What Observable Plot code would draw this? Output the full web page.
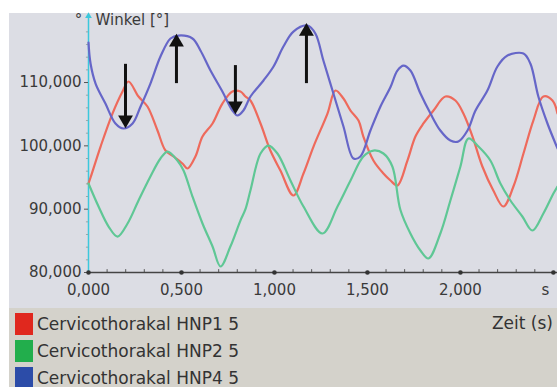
<!DOCTYPE html>
<html><head><meta charset="utf-8">
<script src="https://cdn.jsdelivr.net/npm/d3@7"></script>
<script src="https://cdn.jsdelivr.net/npm/@observablehq/plot@0.6"></script>
<style>
body{margin:0;background:#fff;font-family:"DejaVu Sans",sans-serif;}
#wrap{position:relative;width:557px;height:387px;overflow:hidden;}
#bg{position:absolute;left:9px;top:13px;width:548px;height:295px;background:#dcdde4;}
#chart{position:absolute;left:0;top:0;}
#legend{position:absolute;left:9px;top:308px;width:548px;height:79px;background:#d4d2cb;}
.row{position:absolute;left:6px;height:24px;display:flex;align-items:center;font-size:17px;color:#333;white-space:nowrap;}
.sw{width:18px;height:22px;margin-right:4px;flex:none;}
#zeit{position:absolute;right:4px;top:5px;font-size:17px;color:#333;}
</style></head>
<body>
<div id="wrap">
  <div id="bg"></div>
  <div id="chart"></div>
  <div id="legend"></div>
</div>
<script>
// ---- data ----
const seriesNames = ["Cervicothorakal HNP1 5", "Cervicothorakal HNP2 5", "Cervicothorakal HNP4 5"];
const lineColors = ["#ee6a5c", "#5fc795", "#6666c8"];
const legendColors = ["#e0281e", "#22ae4c", "#2c4ca8"];

const tRed = [0,0.011,0.065,0.129,0.183,0.215,0.269,0.317,0.371,0.414,0.457,0.505,0.532,0.575,0.613,0.667,0.720,0.774,0.817,0.844,0.871,0.925,0.978,1.032,1.102,1.156,1.210,1.285,1.328,1.371,1.409,1.452,1.478,1.532,1.586,1.624,1.661,1.715,1.758,1.801,1.855,1.919,1.973,2.016,2.065,2.118,2.177,2.231,2.285,2.339,2.392,2.446,2.495,2.522];
const vRed = [94.05,95.0,99.89,105.1,108.58,110.16,107.79,106.21,102.42,99.26,98.32,97.21,96.42,98.32,101.47,103.53,106.68,108.58,108.58,107.79,107.16,103.53,99.26,96.1,92.16,95.63,99.89,105.1,108.74,107.47,105.58,104.0,101.47,97.68,95.63,94.53,93.74,97.68,101.47,103.53,105.58,107.79,107.16,105.1,101.47,96.74,92.95,90.42,93.58,98.79,104.0,107.79,107.16,105.1];

const tGreen = [0,0.054,0.108,0.156,0.210,0.269,0.333,0.387,0.425,0.478,0.511,0.559,0.613,0.667,0.710,0.763,0.817,0.844,0.871,0.925,0.968,1.016,1.086,1.156,1.258,1.339,1.409,1.478,1.532,1.586,1.634,1.677,1.731,1.785,1.828,1.892,1.946,2.000,2.043,2.097,2.161,2.215,2.269,2.333,2.387,2.446,2.500,2.522];
const vGreen = [94.05,90.42,87.26,85.68,87.74,91.37,95.16,98.0,99.1,97.68,96.1,92.0,87.74,84.1,80.95,84.1,88.2,90.0,93.0,98.79,100.05,98.79,94.53,90.42,86.16,90.42,94.53,98.32,99.26,98.79,96.74,89.9,86.16,83.47,82.21,86.16,91.37,96.74,101.16,99.89,97.68,94.05,91.37,88.84,86.63,89.31,92.47,93.58];

const tBlue = [0,0.011,0.038,0.091,0.145,0.188,0.237,0.280,0.333,0.387,0.441,0.484,0.559,0.602,0.656,0.720,0.774,0.801,0.833,0.871,0.941,0.995,1.048,1.102,1.177,1.220,1.263,1.317,1.371,1.425,1.462,1.516,1.570,1.624,1.661,1.694,1.731,1.785,1.839,1.892,1.946,1.989,2.038,2.081,2.145,2.199,2.253,2.339,2.376,2.419,2.468,2.511,2.522];
const vBlue = [116.3,113.0,109.84,106.68,103.53,102.74,103.53,106.21,109.84,114.1,116.95,117.42,116.95,115.05,111.89,108.58,105.58,104.79,105.58,107.79,110.32,112.53,115.68,118.05,119.0,117.74,113.47,108.26,103.05,98.0,98.32,102.42,106.21,109.3,111.89,112.68,111.89,108.26,105.1,102.42,100.84,100.68,102.42,105.58,108.74,112.53,114.26,114.58,113.0,107.79,103.53,100.37,99.6];

// annotation arrows: time, base value, tip value
const arrowsDown = [{t:0.199, from:112.4, to:103.5}, {t:0.790, from:112.2, to:105.7}];
const arrowsUp = [{t:0.473, from:110.3, to:117.0}, {t:1.172, from:110.3, to:118.7}];

const yTicks = [80, 90, 100, 110];
const yMinorTicks = [82,84,86,88,92,94,96,98,102,104,106,108,112,114,116,118];
const xTicks = [0, 0.5, 1, 1.5, 2, 2.5];
const xTickLabels = ["0,000", "0,500", "1,000", "1,500", "2,000", "s"];
const xMinorTicks = [0.1,0.2,0.3,0.4,0.6,0.7,0.8,0.9,1.1,1.2,1.3,1.4,1.6,1.7,1.8,1.9,2.1,2.2,2.3,2.4];
const yLabel = "Winkel [°]";
const xLabel = "Zeit (s)";

// ---- build ----
const rows = [];
[[tRed, vRed], [tGreen, vGreen], [tBlue, vBlue]].forEach(([ts, vs], i) => {
  ts.forEach((t, j) => rows.push({series: seriesNames[i], t, v: vs[j]}));
});
const fmt = d => d.toFixed(3).replace(".", ",");
const xFmt = d => xTickLabels[xTicks.indexOf(d)];
const xNumTicks = xTicks.slice(0, -1);
const xUnitTick = xTicks.slice(-1);

const chart = Plot.plot({
  width: 557, height: 308,
  marginLeft: 88, marginRight: 0, marginTop: 13, marginBottom: 36,
  style: {background: "transparent", color: "#3a3a3a", fontFamily: "DejaVu Sans, sans-serif", fontSize: "15px", overflow: "visible"},
  x: {type: "linear", domain: [0, 2.522], axis: null, label: null},
  y: {type: "linear", domain: [80, 120.9], axis: null, label: null},
  color: {domain: seriesNames, range: lineColors},
  marks: [
    Plot.ruleX([0], {y1: 80, y2: 120.5, stroke: "#3cc8dc", strokeWidth: 1.5}),
    Plot.dot([0], {x: 0, y: 120.5, symbol: "triangle", r: 2.5, fill: "#3cc8dc", stroke: "none"}),
    Plot.ruleY(yMinorTicks, {y: d => d, x1: -0.011, x2: 0, stroke: "#8a9a9a", strokeWidth: 0.8}),
    Plot.axisY(yTicks, {tickFormat: fmt, tickSize: 4, tickPadding: 3, fontSize: 15, stroke: "#555", fill: "#3a3a3a", label: null}),
    Plot.ruleX(xMinorTicks, {x: d => d, y1: 80, y2: 80.45, stroke: "#555", strokeWidth: 1}),
    Plot.ruleY([80], {stroke: "#444", strokeWidth: 1.5}),
    Plot.dot(xTicks, {x: d => d, y: 80, r: 2.3, fill: "#333", stroke: "none"}),
    Plot.axisX(xNumTicks, {tickFormat: xFmt, tickSize: 0, tickPadding: 12, fontSize: 15, fill: "#3a3a3a", label: null}),
    Plot.text(xUnitTick, {x: d => d, y: 80, text: xFmt, dx: -8, dy: 12, lineAnchor: "top", fontSize: 15, fill: "#3a3a3a"}),
    Plot.line(rows, {x: "t", y: "v", z: "series", stroke: "series", strokeWidth: 2.2, curve: "catmull-rom"}),
    Plot.ruleX(arrowsDown, {x: "t", y1: "from", y2: "to", stroke: "#111", strokeWidth: 3, dy: -3}),
    Plot.dot(arrowsDown, {x: "t", y: "to", symbol: "triangle", rotate: 180, r: 5.5, fill: "#111", stroke: "none", dy: -4}),
    Plot.ruleX(arrowsUp, {x: "t", y1: "from", y2: "to", stroke: "#111", strokeWidth: 3, dy: 3}),
    Plot.dot(arrowsUp, {x: "t", y: "to", symbol: "triangle", r: 5.5, fill: "#111", stroke: "none", dy: 4}),
    Plot.text([yLabel], {frameAnchor: "top-left", dx: 7, dy: 1, lineAnchor: "top", textAnchor: "start", fontSize: 15, fill: "#3a3a3a"}),
    Plot.text(["°"], {frameAnchor: "top-left", dx: -10, dy: 1, lineAnchor: "top", textAnchor: "middle", fontSize: 15, fill: "#3a3a3a"})
  ]
});
document.getElementById("chart").appendChild(chart);

const legend = document.getElementById("legend");
seriesNames.forEach((name, i) => {
  const row = document.createElement("div");
  row.className = "row";
  row.style.top = (4 + i * 27) + "px";
  row.innerHTML = `<span class="sw" style="background:${legendColors[i]}"></span><span>${name}</span>`;
  legend.appendChild(row);
});
const z = document.createElement("div");
z.id = "zeit"; z.textContent = xLabel;
legend.appendChild(z);
</script>
</body></html>
